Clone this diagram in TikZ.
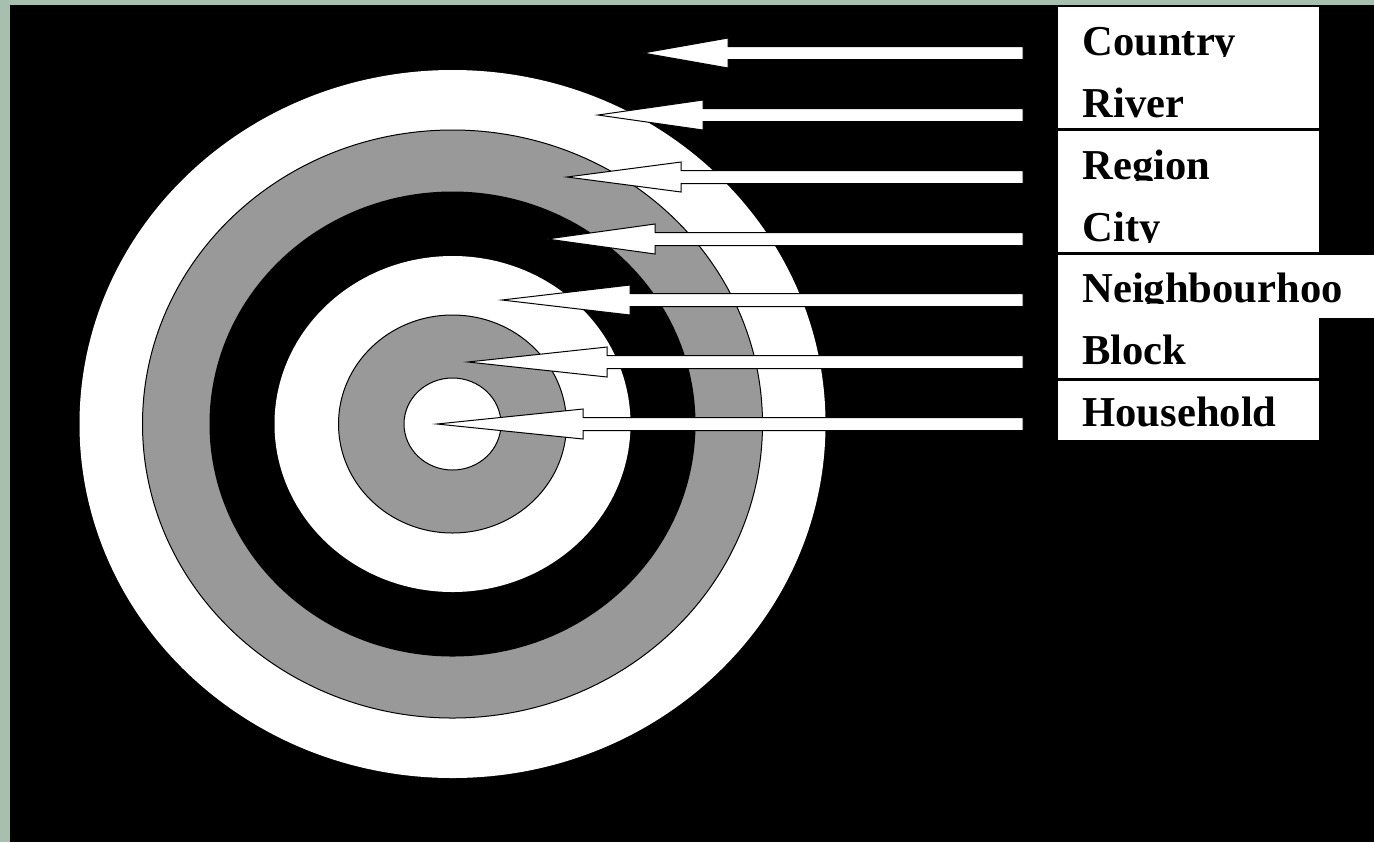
\documentclass[tikz,border=0pt]{standalone}
\usepackage{fontspec}
\setmainfont{Liberation Serif}
\usetikzlibrary{calc}
\definecolor{bordergreen}{RGB}{167,191,175}
\definecolor{ringgray}{RGB}{153,153,153}
\tikzset{
  ring/.style={fill=ringgray,draw=black,line width=0.5pt},
  pointer/.style={fill=white,draw=black,line width=0.5pt,line join=miter},
  levelbox/.style={fill=white},
  levelname/.style={anchor=base west,inner sep=0pt,font=\bfseries\fontsize{21.3}{25}\selectfont}
}
\begin{document}
\begin{tikzpicture}[x=0.5pt,y=-0.5pt]
  \useasboundingbox (0,0) rectangle (1374,842);
  \fill[bordergreen] (0,0) rectangle (1374,842);
  \fill[black] (10,5) rectangle (1374,842);

  % target rings
  \coordinate (C) at (452.5,424);
  \fill[white] (C) ellipse [x radius=373,y radius=354];
  \filldraw[ring] (C) ellipse [x radius=310,y radius=294];
  \fill[black] (C) ellipse [x radius=243,y radius=232.5];
  \fill[white] (C) ellipse [x radius=178,y radius=168];
  \filldraw[ring] (C) ellipse [x radius=114,y radius=109];
  \filldraw[pointer] (C) ellipse [x radius=48.5,y radius=46];

  % label boxes
  \fill[levelbox] (1058,7) rectangle (1319,128);
  \fill[levelbox] (1058,131) rectangle (1319,252);
  \fill[levelbox] (1058,255) rectangle (1319,378);
  \fill[levelbox] (1319,255) rectangle (1374,318);
  \fill[levelbox] (1058,381) rectangle (1319,440);

  \foreach \y/\tip/\base/\name [count=\i] in {53/643/728/Country,115/598/703/River,
      177/567/681/Region,239/547/655/City,300/502/630/Neighbourhoo,
      362/468/607/Block,424/437/583/Household}{
    \coordinate (tip\i) at (\tip,\y);
    \coordinate (tail\i) at (1023,\y);
    \draw[pointer] (tip\i) -- (\base,\y-15) -- (\base,\y-6.5) -- ($(tail\i)+(0,-6.5)$)
      -- ($(tail\i)+(0,6.5)$) -- (\base,\y+6.5) -- (\base,\y+15) -- cycle;
    \begin{scope}
      \clip (1058,\y-35) rectangle (1374,\y+3);
      \node[levelname] (lvl\i) at (1082,\y+2.5) {\name};
    \end{scope}
  }
\end{tikzpicture}
\end{document}
